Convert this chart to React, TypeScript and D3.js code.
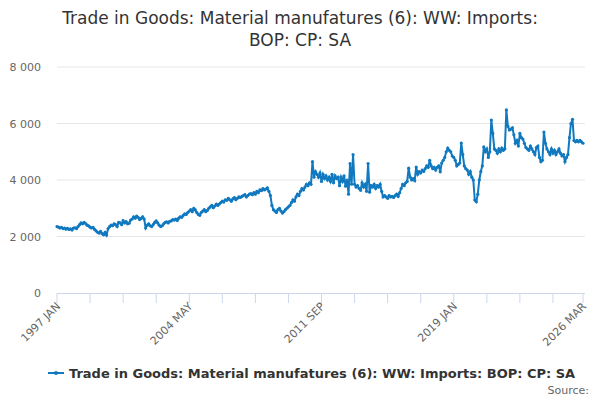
import { useRef, useEffect } from "react";
import * as d3 from "d3";

const TITLE = ["Trade in Goods: Material manufatures (6): WW: Imports:", "BOP: CP: SA"];
const SERIES_NAME = "Trade in Goods: Material manufatures (6): WW: Imports: BOP: CP: SA";
const START_YEAR = 1997;
const MONTHS = ["JAN", "FEB", "MAR", "APR", "MAY", "JUN", "JUL", "AUG", "SEP", "OCT", "NOV", "DEC"];
const Y_TICKS = [0, 2000, 4000, 6000, 8000];
const LABEL_IDX = [0, 88, 176, 264, 350];

// monthly values, 1997 JAN .. 2026 MAR
const values = [
  2350, 2330, 2300, 2320, 2280, 2300, 2260, 2290, 2250, 2270, 2230, 2300,
  2310, 2280, 2350, 2420, 2480, 2450, 2500, 2460, 2400, 2380, 2330, 2300,
  2320, 2250, 2200, 2150, 2120, 2180, 2100, 2060, 2150, 2050, 2280, 2350,
  2400, 2380, 2450, 2420, 2350, 2500, 2480, 2420, 2560, 2480, 2530, 2450,
  2470, 2580, 2620, 2700, 2650, 2720, 2680, 2600, 2640, 2700, 2620, 2300,
  2400, 2450, 2380, 2350, 2420, 2500, 2550, 2480, 2400, 2350, 2380, 2450,
  2500, 2520, 2480, 2540, 2550, 2600, 2580, 2620, 2570, 2650, 2700, 2680,
  2750, 2800, 2780, 2850, 2900, 2950, 2880, 3000, 2940, 2850, 2780, 2750,
  2850, 2900, 2950, 2880, 2920, 3000, 3050, 3100, 3020, 3080, 3150, 3100,
  3150, 3200, 3250, 3220, 3300, 3280, 3350, 3300, 3250, 3330, 3380, 3300,
  3350, 3400, 3380, 3420, 3450, 3480, 3400, 3450, 3500, 3520, 3480, 3550,
  3500, 3600, 3550, 3650, 3620, 3700, 3650, 3680, 3720, 3600, 3450, 3100,
  2950, 2900, 2850, 2950, 3000, 2900, 2830, 2880, 2950, 3000, 3050, 3100,
  3200, 3300, 3250, 3400, 3500, 3450, 3600, 3700, 3650, 3750, 3850, 3800,
  3900, 3850, 4650, 4100, 4300, 4200, 4100, 4250, 3950, 4200, 4050, 4150,
  4000, 4100, 3950, 4200, 3900, 4150, 4050, 4100, 3800, 4100, 3950, 4150,
  3780, 4000, 3500, 4580, 3850, 4900, 3850, 3750, 3800, 3700, 3640, 3900,
  3750, 3850, 3600, 4580, 3570, 3800, 3750, 3850, 3700, 3800, 3750, 3850,
  3600, 3400, 3450, 3400, 3350, 3450, 3400, 3420, 3380, 3450, 3500, 3420,
  3550, 3700, 3850, 3800, 3900, 3950, 4420, 4100, 4000, 4050, 3980, 4460,
  4200, 4300, 4250, 4350, 4300, 4400, 4500, 4450, 4700, 4500, 4400, 4450,
  4350, 4450, 4500, 4290, 4600, 4700, 4800, 5000, 5130, 5050, 5000, 4850,
  4800, 4700, 4500, 4550, 4600, 5310, 4900, 4500, 4400, 4350, 4200, 4300,
  4100, 4000, 3290, 3230, 3500, 4000, 4300, 4500, 5170, 5000, 5100, 4800,
  5000, 6120, 5650, 5100, 5050, 4950, 5100, 5000, 5130, 5050, 5100, 6480,
  5900, 5770, 5800, 5850, 5600, 5300, 5400, 5200, 5650, 5500, 5450, 5300,
  5150, 5100, 5050, 5200, 5100, 5000, 4900, 5150, 5200, 4800, 4650, 4700,
  5700, 5300, 5100, 5000, 4900, 5100, 4950, 5050, 4900, 5000, 5100, 4950,
  4850, 4900, 4650, 4800, 4900, 5500, 6000, 6150, 5400, 5350, 5400, 5350,
  5400, 5350, 5300,
];

const COLOR = "#1079bf";
const FONT = "'DejaVu Sans', sans-serif";
const M = { left: 57, right: 583, top: 67, bottom: 293 };

const label = (i: number) => `${START_YEAR + Math.floor(i / 12)} ${MONTHS[i % 12]}`;

export default function App() {
  const ref = useRef<SVGSVGElement>(null);

  useEffect(() => {
    const svg = d3.select(ref.current);
    svg.selectAll("*").remove();
    const x = d3.scaleLinear().domain([0, values.length - 1]).range([M.left, M.right]);
    const y = d3.scaleLinear().domain([0, 8000]).range([M.bottom, M.top]);

    // title
    svg.append("text")
      .attr("x", 300).attr("y", 24).attr("text-anchor", "middle")
      .attr("font-size", 17).attr("fill", "#333")
      .selectAll("tspan").data(TITLE).join("tspan")
      .attr("x", 300).attr("dy", (_, i) => (i ? 22 : 0)).text((d) => d);

    // grid + y labels
    const yg = svg.append("g");
    Y_TICKS.forEach((t) => {
      if (t > 0)
        yg.append("line").attr("x1", M.left).attr("x2", 585)
          .attr("y1", y(t)).attr("y2", y(t)).attr("stroke", "#e6e6e6");
      yg.append("text").attr("x", 41).attr("y", y(t) + 4).attr("text-anchor", "end")
        .attr("font-size", 11).attr("fill", "#666")
        .text(d3.format(",")(t).replace(",", " "));
    });

    // x axis
    svg.append("line").attr("x1", M.left).attr("x2", 585)
      .attr("y1", M.bottom + 0.5).attr("y2", M.bottom + 0.5).attr("stroke", "#ccd6eb");
    const ticks = d3.range(0, values.length, 22).concat([values.length - 1]);
    ticks.forEach((i) => {
      svg.append("line").attr("x1", x(i)).attr("x2", x(i))
        .attr("y1", M.bottom).attr("y2", M.bottom + 10).attr("stroke", "#ccd6eb");
    });
    LABEL_IDX.forEach((i) => {
      svg.append("text")
        .attr("transform", `translate(${x(i) + 4},${M.bottom + 14}) rotate(-45)`)
        .attr("text-anchor", "end").attr("font-size", 11).attr("fill", "#666")
        .text(label(i));
    });

    // series
    const line = d3.line<number>().x((_, i) => x(i)).y((d) => y(d));
    svg.append("path").datum(values).attr("d", line)
      .attr("fill", "none").attr("stroke", COLOR).attr("stroke-width", 2);
    svg.append("g").selectAll("circle").data(values).join("circle")
      .attr("cx", (_, i) => x(i)).attr("cy", (d) => y(d)).attr("r", 1.6).attr("fill", COLOR);

    // legend
    const lg = svg.append("g").attr("transform", "translate(48,373)");
    lg.append("line").attr("x1", 0).attr("x2", 16).attr("y1", 0).attr("y2", 0)
      .attr("stroke", COLOR).attr("stroke-width", 2);
    lg.append("circle").attr("cx", 8).attr("cy", 0).attr("r", 2).attr("fill", COLOR);
    lg.append("text").attr("x", 21).attr("y", 5).attr("font-size", 13)
      .attr("font-weight", "bold").attr("fill", "#333").text(SERIES_NAME);

    svg.append("text").attr("x", 589).attr("y", 394).attr("text-anchor", "end")
      .attr("font-size", 11).attr("fill", "#666").text("Source:");
  }, []);

  return (
    <div style={{ position: "absolute", left: 0, top: 0 }}>
      <svg ref={ref} width={600} height={400} style={{ fontFamily: FONT, display: "block", background: "#fff" }} />
    </div>
  );
}
